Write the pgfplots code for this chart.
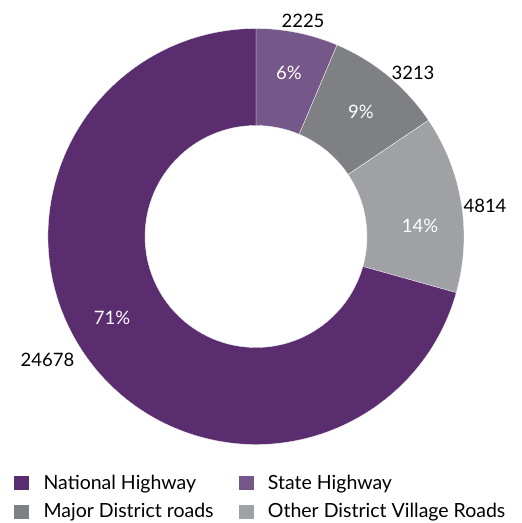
\documentclass[border=0pt]{standalone}
\usepackage{pgfplots}
\usepackage{pgfplotstable}
\usepackage{fontspec}
\setmainfont{Lato}
\pgfplotsset{compat=1.18}

\definecolor{nh}{HTML}{5A2D6E}
\definecolor{sh}{HTML}{755789}
\definecolor{md}{HTML}{7F8083}
\definecolor{od}{HTML}{A0A1A5}

% road length (km) by category
\pgfplotstableread[col sep=comma]{
label,value
National Highway,24678
State Highway,2225
Major District roads,3213
Other District Village Roads,4814
}\roads

\pgfplotstablegetelem{0}{value}\of\roads \let\vNH\pgfplotsretval
\pgfplotstablegetelem{1}{value}\of\roads \let\vSH\pgfplotsretval
\pgfplotstablegetelem{2}{value}\of\roads \let\vMD\pgfplotsretval
\pgfplotstablegetelem{3}{value}\of\roads \let\vOD\pgfplotsretval
% pgfmath overflows on these, use l3fp
\edef\tot{\fpeval{\vNH+\vSH+\vMD+\vOD}}
% clockwise from 12 o'clock: SH, MD, OD, NH
\def\aA{90}
\edef\aB{\fpeval{round(\aA-360*\vSH/\tot,3)}}
\edef\aC{\fpeval{round(\aB-360*\vMD/\tot,3)}}
\edef\aD{\fpeval{round(\aC-360*\vOD/\tot,3)}}
\def\aE{-270}

\def\R{208pt}
\def\r{111pt}
\def\dr{97pt}
% one ring segment, #1 colour, #2 start, #3 end
\newcommand\seg[3]{%
  \fill[#1, draw=white, line width=0.3pt] (axis cs:256,286.5) ++(#2:\R)
    arc[start angle=#2, end angle=#3, radius=\R]
    -- ++(#3+180:\dr)
    arc[start angle=#3, end angle=#2, radius=\r] -- cycle;}

\begin{document}
\begin{tikzpicture}
\begin{axis}[
    scale only axis,
    width=522pt, height=523pt,
    xmin=0, xmax=522, ymin=0, ymax=523,
    hide axis, clip=false,
    font=\fontsize{18.5}{22}\selectfont,
    legend columns=2,
    legend cell align=left,
    legend style={at={(axis cs:14,26)}, anchor=west, draw=none, fill=none,
        inner sep=0pt,
        font=\fontsize{19.5}{23}\selectfont,
        /tikz/every odd column/.append style={column sep=13pt},
        /tikz/every even column/.append style={column sep=23pt},
        row sep=9pt},
    legend image code/.code={\fill[#1] (0pt,-6.5pt) rectangle (14pt,6.5pt);},
]
\path (axis cs:0,0) rectangle (axis cs:522,523);

\seg{sh}{\aA}{\aB}
\seg{md}{\aB}{\aC}
\seg{od}{\aC}{\aD}
\seg{nh}{\aD}{\aE}

\addlegendimage{nh}\addlegendentry{National Highway}
\addlegendimage{sh}\addlegendentry{State Highway}
\addlegendimage{md}\addlegendentry{Major District roads}
\addlegendimage{od}\addlegendentry{Other District Village Roads}

% value labels
\node at (axis cs:303,502) {2225};
\node at (axis cs:413,450.5) {3213};
\node at (axis cs:485,317) {4814};
\node at (axis cs:47.5,163) {24678};
% share labels
\node[white] at (axis cs:289,450.5) {6\%};
\node[white] at (axis cs:361,411) {9\%};
\node[white] at (axis cs:420,297) {14\%};
\node[white] at (axis cs:112,205.5) {71\%};
\end{axis}
\end{tikzpicture}
\end{document}
